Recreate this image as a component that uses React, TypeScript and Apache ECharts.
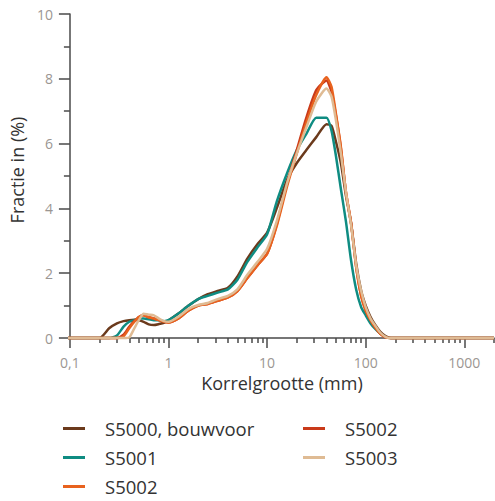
import React, { useEffect, useRef } from "react";
import * as echarts from "echarts";

// Grain sizes (mm)
const sizes = [0.055, 0.2, 0.25, 0.3, 0.35, 0.4, 0.45, 0.5, 0.56, 0.63, 0.71, 0.8, 0.9, 1, 1.25, 1.6, 2, 2.5, 3.15, 4, 5, 6.3, 8, 10, 12.5, 16, 20, 25, 31.5, 40, 45, 50, 56, 63, 71, 80, 90, 100, 112, 125, 140, 160, 180, 2000];

const s5000 = [0, 0, 0.3, 0.45, 0.52, 0.55, 0.56, 0.55, 0.5, 0.42, 0.4, 0.43, 0.47, 0.55, 0.75, 1.0, 1.2, 1.35, 1.45, 1.55, 1.9, 2.45, 2.9, 3.25, 4.0, 4.9, 5.4, 5.8, 6.2, 6.6, 6.55, 6.05, 5.4, 4.4, 3.55, 2.3, 1.45, 1.0, 0.65, 0.4, 0.2, 0.05, 0, 0];
const s5001 = [0, 0, 0, 0.08, 0.35, 0.5, 0.55, 0.6, 0.6, 0.58, 0.55, 0.55, 0.52, 0.55, 0.75, 1.0, 1.2, 1.3, 1.4, 1.5, 1.8, 2.35, 2.8, 3.2, 4.2, 5.1, 5.8, 6.3, 6.8, 6.8, 6.4, 5.6, 4.6, 3.6, 2.4, 1.5, 0.95, 0.7, 0.45, 0.28, 0.14, 0.03, 0, 0];
const s5002a = [0, 0, 0, 0, 0.05, 0.3, 0.5, 0.65, 0.7, 0.64, 0.6, 0.55, 0.5, 0.48, 0.6, 0.85, 1.0, 1.05, 1.15, 1.25, 1.45, 1.85, 2.25, 2.6, 3.45, 4.7, 5.7, 6.65, 7.5, 8.05, 7.75, 6.9, 5.9, 4.5, 3.55, 2.2, 1.3, 0.85, 0.55, 0.32, 0.14, 0.02, 0, 0];
const s5002b = [0, 0, 0, 0, 0.1, 0.35, 0.52, 0.65, 0.7, 0.64, 0.6, 0.55, 0.5, 0.48, 0.6, 0.85, 1.0, 1.05, 1.15, 1.25, 1.45, 1.85, 2.25, 2.6, 3.5, 4.8, 5.8, 6.8, 7.65, 7.95, 7.6, 6.85, 5.85, 4.5, 3.55, 2.2, 1.3, 0.85, 0.55, 0.32, 0.14, 0.02, 0, 0];
const s5003 = [0, 0, 0, 0, 0, 0.02, 0.3, 0.55, 0.75, 0.72, 0.7, 0.6, 0.52, 0.5, 0.65, 0.9, 1.02, 1.08, 1.2, 1.3, 1.5, 1.95, 2.35, 2.75, 3.6, 4.8, 5.7, 6.5, 7.3, 7.7, 7.45, 6.7, 5.7, 4.5, 3.5, 2.25, 1.45, 0.95, 0.6, 0.38, 0.17, 0.03, 0, 0];

const seriesNames = ["S5000, bouwvoor", "S5001", "S5002", "S5002 (b)", "S5003"];
const legendLabels: Record<string, string> = {
  "S5000, bouwvoor": "S5000, bouwvoor",
  "S5001": "S5001",
  "S5002": "S5002",
  "S5002 (b)": "S5002",
  "S5003": "S5003",
};
const seriesValues = [s5000, s5001, s5002a, s5002b, s5003];
const colors = ["#6b3a1c", "#0f8c82", "#e8621e", "#c93a1a", "#dfbb94"];
const zOrder = [2, 3, 5, 4, 6];

const xMajorTicks = [0.1, 1, 10, 100, 1000];
const xMinorTicks = [0.2, 0.3, 0.4, 0.5, 0.6, 0.7, 0.8, 0.9, 2, 3, 4, 5, 6, 7, 8, 9, 20, 30, 40, 50, 60, 70, 80, 90, 200, 300, 400, 500, 600, 700, 800, 900, 2000];

const FONT = "Open Sans";
const AXIS_COLOR = "#4a4a4a";
const LABEL_COLOR = "#9b9692";

export default function App() {
  const ref = useRef<HTMLDivElement>(null);
  useEffect(() => {
    if (!ref.current) return;
    const chart = echarts.init(ref.current, null, { renderer: "svg" });
    const fmt = (v: number) => String(Number(v.toPrecision(6))).replace(".", ",");
    const legendBase = {
      orient: "vertical",
      top: 419,
      padding: 0,
      itemGap: 10,
      itemWidth: 22,
      itemHeight: 3,
      icon: "rect",
      formatter: (n: string) => legendLabels[n],
      textStyle: { fontFamily: FONT, fontSize: 18.5, color: "#333", padding: [0, 0, 0, 15] },
    };
    chart.setOption({
      animation: false,
      textStyle: { fontFamily: FONT },
      grid: { left: 69, right: 1, top: 14, bottom: 163, containLabel: false },
      legend: [
        { ...legendBase, data: seriesNames.slice(0, 3), left: 63 },
        { ...legendBase, data: seriesNames.slice(3), left: 303 },
      ],
      xAxis: [
        {
          type: "log",
          logBase: 10,
          min: 0.1,
          max: 2000,
          name: "Korrelgrootte (mm)",
          nameLocation: "middle",
          nameGap: 35,
          nameTextStyle: { fontFamily: FONT, fontSize: 18, color: "#333" },
          axisLine: { show: true, lineStyle: { color: AXIS_COLOR, width: 1.5 } },
          axisTick: { show: true, length: 10, customValues: xMajorTicks, lineStyle: { color: AXIS_COLOR, width: 1.5 } },
          axisLabel: {
            customValues: xMajorTicks,
            formatter: fmt,
            margin: 17,
            fontSize: 14,
            color: LABEL_COLOR,
            fontFamily: FONT,
          },
          splitLine: { show: false },
        },
        {
          type: "log",
          logBase: 10,
          min: 0.1,
          max: 2000,
          position: "bottom",
          axisLine: { show: false },
          axisTick: { show: true, length: 5, customValues: xMinorTicks, lineStyle: { color: AXIS_COLOR, width: 1.5 } },
          axisLabel: { show: false },
          splitLine: { show: false },
        },
      ],
      yAxis: {
        type: "value",
        min: 0,
        max: 10,
        interval: 2,
        name: "Fractie in (%)",
        nameLocation: "middle",
        nameGap: 40,
        nameTextStyle: { fontFamily: FONT, fontSize: 18, color: "#333", padding: [0, 0, 0, 12] },
        axisLine: { show: true, lineStyle: { color: AXIS_COLOR, width: 1.5 } },
        axisTick: { show: true, length: 11, lineStyle: { color: AXIS_COLOR, width: 1.5 } },
        minorTick: { show: true, splitNumber: 2, length: 6, lineStyle: { color: AXIS_COLOR, width: 1.5 } },
        axisLabel: { margin: 17, fontSize: 14, color: LABEL_COLOR, fontFamily: FONT },
        splitLine: { show: false },
      },
      series: seriesNames.map((name, i) => ({
        name,
        type: "line",
        xAxisIndex: 0,
        data: sizes.map((s, j) => [s, seriesValues[i][j]]),
        showSymbol: false,
        symbol: "none",
        smooth: 0.2,
        clip: false,
        color: colors[i],
        lineStyle: { width: 2.5, color: colors[i] },
        z: zOrder[i],
      })),
    });
    return () => chart.dispose();
  }, []);
  return (
    <div
      ref={ref}
      style={{ position: "absolute", left: 0, top: 0, width: 495, height: 501 }}
    />
  );
}
